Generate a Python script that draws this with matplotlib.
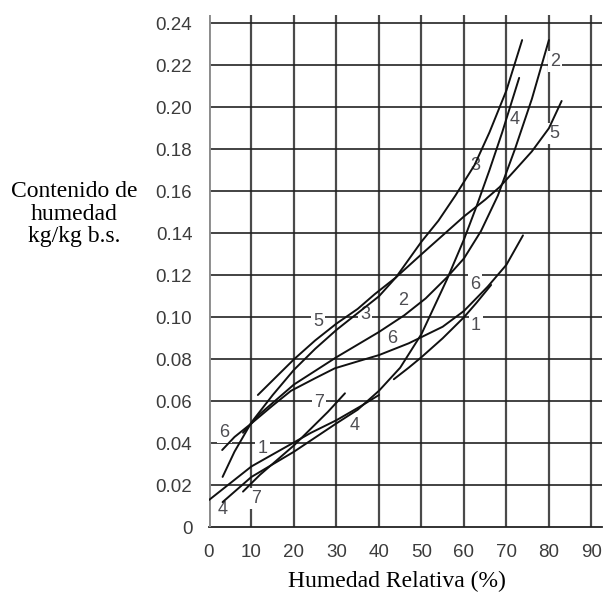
import matplotlib
matplotlib.use('Agg')
import matplotlib.pyplot as plt

# Sorption isotherm curves (x = HR %, y = kg/kg b.s.)
c1a_x = [0, 5, 10, 17, 24, 30, 36, 40]
c1a_y = [0.013, 0.021, 0.029, 0.037, 0.045, 0.051, 0.058, 0.063]
c1b_x = [43.5, 47, 50, 55, 60, 63, 66.4]
c1b_y = [0.0705, 0.076, 0.081, 0.090, 0.100, 0.107, 0.1154]
c2_x = [8, 12, 20, 30, 40, 46, 51, 56, 60, 64, 68, 72, 76, 80]
c2_y = [0.045, 0.054, 0.068, 0.081, 0.093, 0.101, 0.109, 0.119, 0.128, 0.141, 0.158, 0.180, 0.204, 0.232]
c3_x = [3.2, 6, 10, 15, 20, 25, 30, 35, 40, 44, 50, 54, 58, 62.5, 66, 70, 73.7]
c3_y = [0.024, 0.036, 0.050, 0.063, 0.075, 0.085, 0.094, 0.102, 0.110, 0.119, 0.136, 0.146, 0.158, 0.1725, 0.188, 0.208, 0.232]
c4_x = [3.2, 10, 20, 30, 35, 40, 45, 50, 56, 60, 63, 66, 69, 73]
c4_y = [0.012, 0.024, 0.036, 0.0495, 0.056, 0.065, 0.076, 0.092, 0.118, 0.137, 0.153, 0.170, 0.188, 0.214]
c5_x = [11.5, 15, 20, 25, 30, 35, 39, 44, 50, 55, 60, 65, 68.4, 72, 76, 80, 83]
c5_y = [0.063, 0.070, 0.080, 0.089, 0.097, 0.104, 0.111, 0.119, 0.130, 0.139, 0.148, 0.156, 0.162, 0.170, 0.179, 0.190, 0.203]
c6_x = [3.1, 6, 10, 15, 19.3, 25, 29.6, 35, 40, 47, 55, 60, 65.6, 70, 73.9]
c6_y = [0.0368, 0.043, 0.0495, 0.058, 0.065, 0.071, 0.0757, 0.079, 0.082, 0.0876, 0.0955, 0.103, 0.1146, 0.125, 0.139]
c7_x = [8, 12, 16, 20, 24, 28, 32]
c7_y = [0.017, 0.025, 0.032, 0.039, 0.047, 0.055, 0.0638]

curves = [(c1a_x, c1a_y), (c1b_x, c1b_y), (c2_x, c2_y), (c3_x, c3_y),
          (c4_x, c4_y), (c5_x, c5_y), (c6_x, c6_y), (c7_x, c7_y)]

# Curve number labels
label_text = ['1', '1', '2', '2', '3', '3', '4', '4', '4', '5', '5', '6', '6', '6', '7', '7']
label_x = [12.6, 62.8, 45.8, 81.4, 36.7, 62.7, 3.3, 34.2, 71.9, 25.7, 81.2, 3.6, 43.1, 62.6, 11.0, 25.8]
label_y = [0.0376, 0.096, 0.108, 0.2217, 0.1011, 0.1725, 0.0083, 0.0487, 0.194, 0.0979, 0.1876, 0.045, 0.090, 0.1154, 0.0138, 0.0594]

x_ticks = [0, 10, 20, 30, 40, 50, 60, 70, 80, 90]
y_ticks = [0, 0.02, 0.04, 0.06, 0.08, 0.10, 0.12, 0.14, 0.16, 0.18, 0.20, 0.22, 0.24]
y_tick_labels = ['0', '0.02', '0.04', '0.06', '0.08', '0.10', '0.12', '0.14',
                 '0.16', '0.18', '0.20', '0.22', '0.24']

fig = plt.figure(figsize=(6.03, 5.92), dpi=100)
ax = fig.add_axes([209 / 603, 1 - 527.3 / 592, 393 / 603, 512 / 592])
ax.set_xlim(0, 92.5)
ax.set_ylim(0, 0.2438)

# Grid
for xv in x_ticks[1:]:
    ax.axvline(xv, color='#4a4a4a', lw=1.6, zorder=1)
for yv in y_ticks[1:]:
    ax.axhline(yv, color='#222222', lw=1.2, zorder=1)
ax.axhline(0, color='#222222', lw=1.3, zorder=1, clip_on=False)
ax.axvline(0, color='#8c8c8c', lw=2.8, zorder=1)

for s in ax.spines.values():
    s.set_visible(False)

# Curves
for cx, cy in curves:
    ax.plot(cx, cy, color='#111111', lw=1.4, zorder=3, solid_capstyle='round')

# Number labels (they break the grid lines in the original)
for t, lx, ly in zip(label_text, label_x, label_y):
    ax.text(lx, ly, t, ha='center', va='center', fontsize=13, color='#4d4d52',
            family='Liberation Sans', zorder=2,
            bbox=dict(boxstyle='square,pad=0.12', fc='white', ec='none'))

ax.set_xticks(x_ticks)
ax.set_yticks(y_ticks)
ax.set_yticklabels(y_tick_labels)
ax.tick_params(length=0, labelsize=13.5, labelcolor='#3c3c3c')
ax.tick_params(axis='y', pad=12)
ax.tick_params(axis='x', pad=12)
for lab in ax.get_xticklabels() + ax.get_yticklabels():
    lab.set_family('Liberation Sans')

fig.text(397 / 603, 1 - 581 / 592, 'Humedad Relativa (%)', ha='center', va='center',
         family='Liberation Serif', fontsize=17)
fig.text(74 / 603, 1 - 214 / 592, 'Contenido de\nhumedad\nkg/kg b.s.', ha='center',
         va='center', family='Liberation Serif', fontsize=17, linespacing=1.08)

fig.savefig('out.png', dpi=100)
